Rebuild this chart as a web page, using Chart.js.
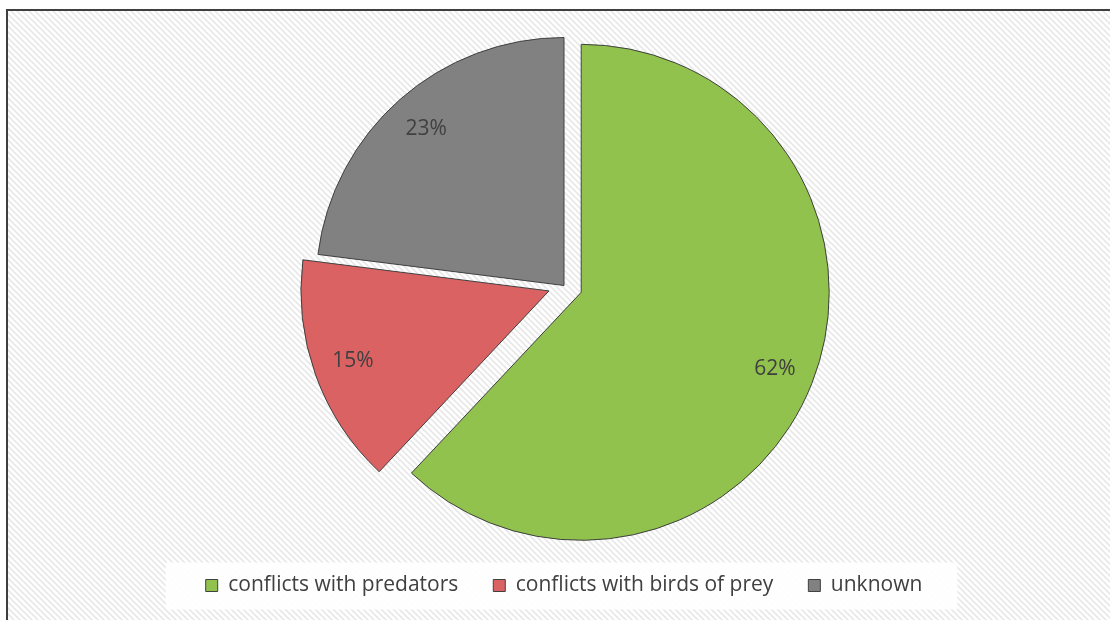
<!DOCTYPE html>
<html>
<head>
<meta charset="utf-8">
<title>Causes</title>
<script src="https://cdn.jsdelivr.net/npm/chart.js@4.4.1/dist/chart.umd.min.js"></script>
<style>
    html, body { margin: 0; padding: 0; background: #fff; overflow: hidden; }
    #wrap { position: relative; width: 1110px; height: 620px; }
</style>
</head>
<body>
<div id="wrap"><canvas id="causes-pie-chart" width="1110" height="620"></canvas></div>
<script>
const causeLabels = ["conflicts with predators", "conflicts with birds of prey", "unknown"];
const causeShares = [62, 15, 23];

const FONT = "'Open Sans', 'Noto Sans', sans-serif";
const TEXT_COLOR = "#404040";

// white page, diagonal hatch inside the frame, dark frame line
const backdrop = {
    id: "backdrop",
    beforeDraw(chart) {
        const { ctx, width, height } = chart;
        ctx.save();
        ctx.fillStyle = "#fff";
        ctx.fillRect(0, 0, width, height);

        const tile = document.createElement("canvas");
        const s = 6;
        tile.width = s;
        tile.height = s;
        const t = tile.getContext("2d");
        t.fillStyle = "#fff";
        t.fillRect(0, 0, s, s);
        t.strokeStyle = "#e8e8e8";
        t.lineWidth = 1.6;
        for (let k = -1; k <= 1; k++) {
            t.beginPath();
            t.moveTo(-s, -s + k * s);
            t.lineTo(2 * s, 2 * s + k * s);
            t.stroke();
        }
        ctx.fillStyle = ctx.createPattern(tile, "repeat");
        ctx.fillRect(8, 11, width, height);

        ctx.strokeStyle = "#3f3f3f";
        ctx.lineWidth = 2;
        ctx.strokeRect(7, 10, width + 20, height + 20);

        // white panel behind the legend
        const boxes = chart.legend?.legendHitBoxes;
        if (boxes && boxes.length) {
            const first = boxes[0];
            const last = boxes[boxes.length - 1];
            const midY = first.top + first.height / 2;
            const x0 = first.left - 40;
            const x1 = last.left + last.width + 35;
            ctx.fillStyle = "rgba(255,255,255,0.92)";
            ctx.fillRect(x0, midY - 23, x1 - x0, 47);
        }
        ctx.restore();
    }
};

// pull slices out from the centre along their middle angle, keeping the radius
const explode = {
    id: "explode",
    afterDatasetUpdate(chart, args, opts) {
        const meta = chart.getDatasetMeta(args.index);
        meta.data.forEach((arc, i) => {
            const d = opts.distances[i] || 0;
            const mid = (arc.startAngle + arc.endAngle) / 2;
            arc.x += Math.cos(mid) * d;
            arc.y += Math.sin(mid) * d;
        });
    }
};

// percentage text inside each slice
const sliceLabels = {
    id: "sliceLabels",
    afterDatasetsDraw(chart) {
        const { ctx } = chart;
        const meta = chart.getDatasetMeta(0);
        ctx.save();
        ctx.font = "21px " + FONT;
        ctx.fillStyle = TEXT_COLOR;
        ctx.textAlign = "center";
        ctx.textBaseline = "middle";
        meta.data.forEach((arc, i) => {
            const mid = (arc.startAngle + arc.endAngle) / 2;
            const d = arc.outerRadius * 0.84;
            ctx.fillText(causeShares[i] + "%", arc.x + Math.cos(mid) * d, arc.y + Math.sin(mid) * d);
        });
        ctx.restore();
    }
};

const ctx = document.getElementById("causes-pie-chart").getContext("2d");
new Chart(ctx, {
    type: "pie",
    data: {
        labels: causeLabels,
        datasets: [{
            data: causeShares,
            backgroundColor: ["rgba(140,192,70,0.96)", "rgba(216,90,91,0.95)", "rgba(122,122,122,0.95)"],
            borderColor: "#404040",
            borderWidth: 1,
            clip: false
        }]
    },
    options: {
        responsive: false,
        animation: false,
        radius: 248,
        layout: { padding: { left: 27, right: 9, top: 31, bottom: 14 } },
        plugins: {
            explode: { distances: [18.5, 16, 0] },
            legend: {
                position: "bottom",
                labels: {
                    boxWidth: 12,
                    boxHeight: 12,
                    padding: 35,
                    color: TEXT_COLOR,
                    font: { family: FONT, size: 21 }
                }
            },
            tooltip: { enabled: false }
        }
    },
    plugins: [backdrop, explode, sliceLabels]
});
</script>
</body>
</html>
